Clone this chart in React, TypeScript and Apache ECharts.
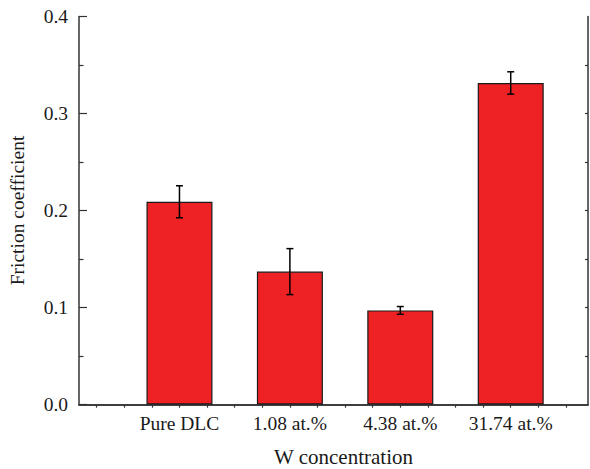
import React, { useEffect, useRef } from "react";
import * as echarts from "echarts";

const categories = ["Pure DLC", "1.08 at.%", "4.38 at.%", "31.74 at.%"];
const positions = [1, 2, 3, 4];
const frictionValues = [0.209, 0.137, 0.097, 0.3315];
const errorValues = [0.0165, 0.0237, 0.004, 0.0115];
const yTicks = [0, 0.1, 0.2, 0.3, 0.4];
const xMinorTicks = [0.25, 0.5, 0.75, 1, 1.25, 1.5, 1.75, 2, 2.25, 2.5, 2.75, 3, 3.25, 3.5, 3.75, 4, 4.25, 4.5];
const rightTicks = [0.05, 0.1, 0.15, 0.2, 0.25, 0.3, 0.35];

const FONT = "'Liberation Serif', 'Times New Roman', serif";

export default function App() {
  const ref = useRef<HTMLDivElement>(null);
  useEffect(() => {
    if (!ref.current) return;
    const chart = echarts.init(ref.current, null, { renderer: "svg" });
    const barData = positions.map((p, i) => [p, frictionValues[i]]);
    const errData = positions.map((p, i) => [p, frictionValues[i] - errorValues[i], frictionValues[i] + errorValues[i]]);
    const axisLine = { show: true, lineStyle: { color: "#333", width: 1.5 } };
    chart.setOption({
      animation: false,
      backgroundColor: "#fff",
      grid: { left: 79, right: 2, top: 16.5, bottom: 64.5, containLabel: false, outerBoundsMode: "none" },
      xAxis: [
        {
          type: "value",
          min: 0.09,
          max: 4.7,
          position: "bottom",
          axisLine,
          splitLine: { show: false },
          axisTick: { show: true, inside: false, length: 3, customValues: xMinorTicks, lineStyle: { color: "#555", width: 1 } },
          axisLabel: {
            customValues: positions,
            formatter: (v: number) => categories[Math.round(v) - 1] ?? "",
            fontFamily: FONT,
            fontSize: 19.5,
            color: "#1a1a1a",
            margin: 9,
          },
          name: "W concentration",
          nameLocation: "middle",
          nameGap: 42,
          nameTextStyle: { fontFamily: FONT, fontSize: 21, color: "#1a1a1a", padding: [0, 0, 0, 20] },
        },
        {
          type: "value",
          min: 0.09,
          max: 4.7,
          position: "top",
          axisLine,
          splitLine: { show: false },
          axisTick: { show: true, inside: true, length: 3, customValues: xMinorTicks, lineStyle: { color: "#333", width: 1.2 } },
          axisLabel: { show: false },
        },
      ],
      yAxis: [
        {
          type: "value",
          min: 0,
          max: 0.4,
          interval: 0.1,
          position: "left",
          axisLine,
          splitLine: { show: false },
          axisTick: { show: true, inside: true, length: 8, lineStyle: { color: "#333", width: 1.2 } },
          minorTick: { show: true, splitNumber: 2, length: 4.5, lineStyle: { color: "#333", width: 1.2 } },
          axisLabel: {
            customValues: yTicks,
            formatter: (v: number) => v.toFixed(1),
            fontFamily: FONT,
            fontSize: 19.5,
            color: "#1a1a1a",
            margin: 11,
          },
          name: "Friction coefficient",
          nameLocation: "middle",
          nameGap: 52,
          nameTextStyle: { fontFamily: FONT, fontSize: 19.5, color: "#1a1a1a" },
        },
        {
          type: "value",
          min: 0,
          max: 0.4,
          position: "right",
          axisLine,
          splitLine: { show: false },
          axisTick: { show: true, inside: true, length: 3, customValues: rightTicks, lineStyle: { color: "#333", width: 1.2 } },
          axisLabel: { show: false },
        },
      ],
      series: [
        {
          type: "bar",
          xAxisIndex: 0,
          yAxisIndex: 0,
          data: barData,
          barWidth: 66,
          itemStyle: { color: "#EE2224", borderColor: "#1a1a1a", borderWidth: 1.2 },
          z: 2,
        },
        {
          type: "custom",
          xAxisIndex: 0,
          yAxisIndex: 0,
          data: errData,
          z: 3,
          renderItem: (params: any, api: any) => {
            const x = api.value(0);
            const lo = api.coord([x, api.value(1)]);
            const hi = api.coord([x, api.value(2)]);
            const cap = 3.5;
            const style = { stroke: "#000", lineWidth: 1.5 };
            return {
              type: "group",
              children: [
                { type: "line", shape: { x1: hi[0], y1: hi[1], x2: lo[0], y2: lo[1] }, style },
                { type: "line", shape: { x1: hi[0] - cap, y1: hi[1], x2: hi[0] + cap, y2: hi[1] }, style },
                { type: "line", shape: { x1: lo[0] - cap, y1: lo[1], x2: lo[0] + cap, y2: lo[1] }, style },
              ],
            };
          },
        },
      ],
    });
    return () => chart.dispose();
  }, []);
  return <div ref={ref} style={{ width: 590, height: 469, position: "absolute", left: 0, top: 0 }} />;
}
